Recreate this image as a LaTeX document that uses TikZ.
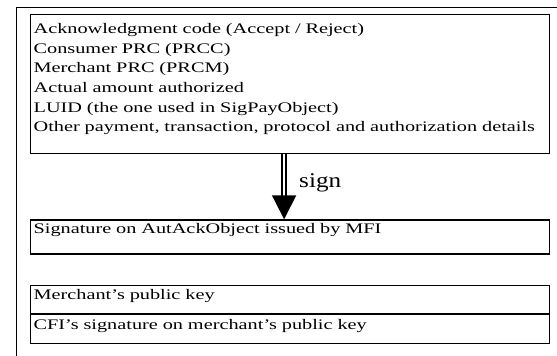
\documentclass[tikz,border=0pt]{standalone}
\usepackage{fontspec}
\setmainfont[FakeStretch=1.39]{Liberation Serif}
\newfontfamily\signfont[FakeStretch=1.2]{Liberation Serif}
\usetikzlibrary{arrows.meta,positioning}

\tikzset{
  caixa/.style={draw, line width=1.2pt, anchor=north west, inner xsep=3pt, inner ysep=0pt,
    minimum width=519pt, text width=513pt, align=left},
}

\begin{document}
\begin{tikzpicture}[x=1pt, y=-1pt, >={Triangle[width=24pt,length=24pt]},
    font=\fontsize{14.6}{19.6}\selectfont]
  % Moldura
  \useasboundingbox (0,0) rectangle (557,356);
  \clip (0,0) rectangle (557,356);
  \draw[line width=1.3pt] (16.5,370) -- (16.5,7.3) -- (570,7.3);

  % Caixas
  \node[caixa, text height=19pt, text depth=120pt] (dados) at (30,14)
    {Acknowledgment code (Accept / Reject)\\
     Consumer PRC (PRCC)\\
     Merchant PRC (PRCM)\\
     Actual amount authorized\\
     LUID (the one used in SigPayObject)\\
     Other payment, transaction, protocol and authorization details};
  \node[caixa, text height=13.7pt, text depth=20.3pt] (assin) at (30,219.3)
    {Signature on AutAckObject issued by MFI};
  \node[caixa, text height=14.3pt, text depth=13.7pt] (chave) at (30,285)
    {Merchant's public key};
  \node[caixa, text height=14.7pt, text depth=14.3pt, below=0pt of chave] (cert)
    {CFI's signature on merchant's public key};

  % Seta
  \draw[->, double, line width=1.8pt, double distance=2.4pt]
    ([xshift=-6pt]dados.south) -- ([xshift=-6pt]assin.north);
  \node[font=\fontsize{21}{24}\signfont, anchor=base west, inner sep=0pt] (rotulo) at (299,187.7) {sign};
\end{tikzpicture}
\end{document}
